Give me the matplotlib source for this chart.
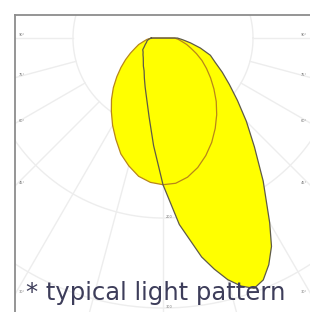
import numpy as np
import matplotlib
matplotlib.use("Agg")
import matplotlib.pyplot as plt

# photometric readings (cd), 0 deg = straight down, positive = right
angles_a = np.arange(-90, 91, 5)
lobe_a = [13, 18, 22, 28, 33, 40, 48, 57, 67, 78, 89, 100, 112, 124, 137, 147, 156, 161,
          163, 162, 157, 149, 139, 128, 116, 104, 92, 80, 69, 59, 50, 41, 33, 27, 21, 17, 13]

angles_b = list(range(-90, 0, 5)) + [0, 5, 10, 12.5, 15, 17.5, 20, 22.5, 25, 27.5] + list(range(30, 91, 5))
lobe_b = [13, 16, 18, 19, 21, 23, 26, 27, 29, 31, 34, 38, 42, 49, 58, 70, 89, 120,
          163, 208, 247, 263, 278, 289, 296, 291, 278, 261,
          237, 194, 158, 131, 108, 90, 76, 64, 56, 43, 31, 22, 16]

rings = [100, 200, 300]
ring_labels = ["100", "200", "300"]
spokes = [-90, -75, -60, -45, -30, -15, 0, 15, 30, 45, 60, 75, 90]
side_labels = [90, 75, 60, 45, 30]

caption = "* typical light pattern"

W, H = 310, 312
fig = plt.figure(figsize=(W / 100, H / 100), dpi=100)
# frame is cropped on the right/bottom in the original
xl, xr = -164.4, 164.4
yt, yb = 25.6, -330
ax = fig.add_axes([15 / W, (H - 335) / H, 296 / W, 320 / H])
ax.set_xlim(xl, xr)
ax.set_ylim(yb, yt)
ax.set_xticks([])
ax.set_yticks([])
for s in ["right", "bottom"]:
    ax.spines[s].set_visible(False)
for s in ["left", "top"]:
    ax.spines[s].set_color("#8c8c8c")
    ax.spines[s].set_linewidth(1.3)

gc = "#ededed"
t = np.linspace(0, 2 * np.pi, 400)
for r in rings:
    ax.plot(r * np.cos(t), r * np.sin(t), color=gc, lw=1.0, zorder=1)
for a in spokes:
    th = np.radians(a)
    ax.plot([100 * np.sin(th), 600 * np.sin(th)], [-100 * np.cos(th), -600 * np.cos(th)],
            color=gc, lw=1.0, zorder=1)

# tiny labels
for r, lab in zip(rings, ring_labels):
    ax.text(3, -r + 1, lab, fontsize=2.5, color="#777777", ha="left", va="center", zorder=1)
for a in side_labels:
    th = np.radians(a)
    y = -abs(xl) / np.tan(th) if a != 90 else 0
    ax.text(xl + 4, y + 3, "%d°" % a, fontsize=2.5, color="#777777", ha="left", va="center")
    ax.text(xr - 4, y + 3, "%d°" % a, fontsize=2.5, color="#777777", ha="right", va="center")


def xy(angles, vals):
    th = np.radians(np.asarray(angles, dtype=float))
    r = np.asarray(vals, dtype=float)
    return r * np.sin(th), -r * np.cos(th)


xa, ya = xy(angles_a, lobe_a)
xb, yb2 = xy(angles_b, lobe_b)
ax.fill(xa, ya, color="#ffff00", lw=0, zorder=2)
ax.fill(xb, yb2, color="#ffff00", lw=0, zorder=2)
ax.plot(np.append(xa, xa[0]), np.append(ya, ya[0]), color="#b8861a", lw=0.9, zorder=3)
ax.plot(np.append(xb, xb[0]), np.append(yb2, yb2[0]), color="#5e5a48", lw=0.9, zorder=3)

fig.text(156 / W, (H - 300) / H, caption, ha="center", va="baseline",
         fontsize=17.5, color="#3d3d5a", family="DejaVu Sans")

fig.savefig("out.png", dpi=100)
